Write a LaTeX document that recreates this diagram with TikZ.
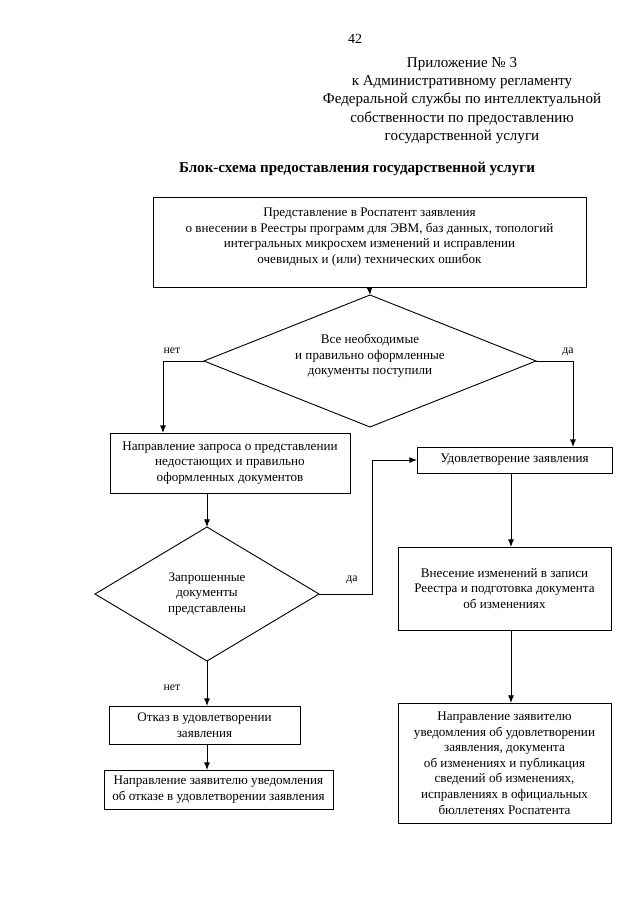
\documentclass[tikz,border=0pt]{standalone}
\usepackage{fontspec}
\setmainfont{Liberation Serif}
\usetikzlibrary{shapes.geometric,arrows.meta}
\begin{document}
\begin{tikzpicture}[x=0.93pt,y=-0.93pt,
  every node/.style={inner sep=0pt,outer sep=0pt},
  boxtext/.style={font=\fontsize{12.2}{14.5}\selectfont,align=center},
  blk/.style={draw,line width=0.85pt,rectangle,boxtext},
  dia/.style={draw,line width=0.85pt,diamond,shape aspect=2.5,boxtext},
  lbl/.style={font=\fontsize{11}{13}\selectfont},
  arr/.style={line width=0.85pt,-{Latex[length=7pt,width=5.5pt]}}]
\useasboundingbox (0,0) rectangle (640,905);
\fill[white] (0,0) rectangle (640,905);

\node[font=\fontsize{13}{15}\selectfont] (pnum) at (355,38.5) {42};
\node[font=\fontsize{14}{17}\selectfont,align=center] (hdr) at (462,100.5)
 {Приложение № 3\\к Административному регламенту\\Федеральной службы по интеллектуальной\\собственности по предоставлению\\государственной услуги};
\node[font=\fontsize{14}{16.7}\selectfont\bfseries] (title) at (357,169) {Блок-схема предоставления государственной услуги};

\node[blk,text depth=12pt,minimum width={433*0.93pt},minimum height={90*0.93pt}] (b1) at (369.5,242)
 {Представление в Роспатент заявления\\о внесении в Реестры программ для ЭВМ, баз данных, топологий\\интегральных микросхем изменений и исправлении\\очевидных и (или) технических ошибок};

\node[dia,text depth=12pt,minimum width={332*0.93pt},minimum height={132*0.93pt}] (d1) at (370,361)
 {Все необходимые\\и правильно оформленные\\документы поступили};

\node[blk,minimum width={240*0.93pt},minimum height={60*0.93pt}] (b2) at (230,463)
 {Направление запроса о представлении\\недостающих и правильно\\оформленных документов};

\node[blk,minimum width={195*0.93pt},minimum height={26*0.93pt}] (sat) at (514.5,460)
 {Удовлетворение заявления};

\node[dia,minimum width={224*0.93pt},minimum height={134*0.93pt}] (d2) at (207,594)
 {Запрошенные\\документы\\представлены};

\node[blk,minimum width={213*0.93pt},minimum height={83*0.93pt}] (vn) at (504.5,588.5)
 {Внесение изменений в записи\\Реестра и подготовка документа\\об изменениях};

\node[blk,minimum width={191*0.93pt},minimum height={38*0.93pt}] (otk) at (204.5,725)
 {Отказ в удовлетворении\\заявления};

\node[blk,minimum width={229*0.93pt},minimum height={39*0.93pt}] (notk) at (218.5,789.5)
 {Направление заявителю уведомления\\об отказе в удовлетворении заявления};

\node[blk,minimum width={213*0.93pt},minimum height={120*0.93pt}] (nud) at (504.5,763)
 {Направление заявителю\\уведомления об удовлетворении\\заявления, документа\\об изменениях и публикация\\сведений об изменениях,\\исправлениях в официальных\\бюллетенях Роспатента};

\coordinate (xa) at (163,0);
\coordinate (xb) at (573,0);
\coordinate (xl) at (207,0);
\coordinate (xm) at (372,0);
\coordinate (xr) at (511,0);

\draw[arr] (b1.south) -- (d1.north);
\draw[arr] (d1.west) -| (b2.north -| xa);
\draw[arr] (d1.east) -| (sat.north -| xb);
\draw[arr] (b2.south -| xl) -- (d2.north);
\draw[arr] (d2.east) -- (d2.east -| xm) |- (sat.west);
\draw[arr] (sat.south -| xr) -- (vn.north -| xr);
\draw[arr] (vn.south -| xr) -- (nud.north -| xr);
\draw[arr] (d2.south) -- (otk.north -| d2.south);
\draw[arr] (otk.south -| d2.south) -- (notk.north -| d2.south);

\node[lbl] (lno1) at (172,351) {нет};
\node[lbl] (lyes1) at (568,352) {да};
\node[lbl] (lyes2) at (352,580) {да};
\node[lbl] (lno2) at (172,688) {нет};
\end{tikzpicture}
\end{document}
